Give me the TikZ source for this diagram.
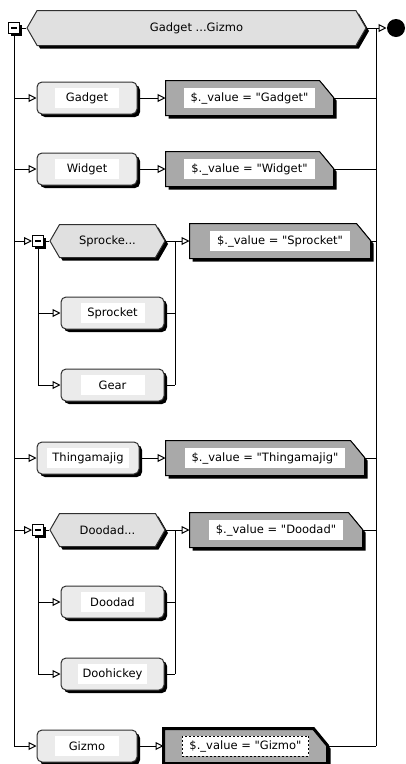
\documentclass[tikz,border=0pt]{standalone}
\usepackage{fontspec}
\setmainfont{DejaVu Sans}[Ligatures=TeXOff]
\usetikzlibrary{arrows.meta,shapes.symbols,shadows}
\definecolor{lightfill}{HTML}{EBEBEB}
\definecolor{hexfill}{HTML}{E0E0E0}
\definecolor{greyfill}{HTML}{A9A9A9}
\definecolor{linegrey}{HTML}{303030}
% grey "assignment" box with a cut top-right corner, drawn round a named node
\newcommand\greyshape[2][]{%
  \fill[black] ([xshift=3pt,yshift=-3pt]#2.south west) -- ([xshift=3pt,yshift=-3pt]#2.north west)
    -- ([xshift=-11pt,yshift=-3pt]#2.north east) -- ([xshift=3pt,yshift=-20pt]#2.north east)
    -- ([xshift=3pt,yshift=-3pt]#2.south east) -- cycle;
  \filldraw[fill=greyfill,draw=black,#1] (#2.south west) -- (#2.north west)
    -- ([xshift=-14pt]#2.north east) -- ([yshift=-17pt]#2.north east)
    -- (#2.south east) -- cycle;}
\begin{document}
\begin{tikzpicture}[x=1pt,y=-1pt,line width=1pt,
  font=\fontsize{11.5}{13}\selectfont,
  arr/.style={-{Triangle[length=8pt,width=8pt,fill=white]}},
  bshadow/.style={drop shadow={shadow xshift=3pt,shadow yshift=-3pt,fill=black,opacity=1}},
  sshadow/.style={drop shadow={shadow xshift=2pt,shadow yshift=-2pt,fill=black,opacity=1}},
  lbox/.style={draw=linegrey,fill=lightfill,rounded corners=5pt,minimum height=32pt,inner sep=0pt,bshadow},
  gbox/.style={rectangle,minimum height=34pt,inner sep=0pt},
  hexbox/.style={signal,signal to=west and east,signal pointer angle=120,
    draw=linegrey,fill=hexfill,inner sep=0pt,bshadow},
  minusbox/.style={draw=black,fill=white,minimum size=11pt,inner sep=0pt,sshadow},
  llab/.style={fill=white,minimum width=64pt,minimum height=20pt,inner xsep=5pt,inner ysep=0pt},
  glab/.style={fill=white,minimum height=20pt,inner xsep=7pt,inner ysep=0pt},
  endcirc/.style={circle,fill=black,minimum size=18pt,inner sep=0pt}
]
\useasboundingbox (0,0) rectangle (406,764);

% ---------- top ----------
\node[minusbox] (tm) at (14,28) {\rule{6pt}{1.2pt}};
\node[hexbox,minimum width=339pt,minimum height=35pt] (hx) at (196.5,28) {Gadget ...Gizmo};
\node[endcirc] (endc) at (396,28) {};
\coordinate (rt) at (376,28);
\coordinate (rb) at (376,746);
\coordinate (lb) at (14,746);

% ---------- Gadget ----------
\node[lbox,minimum width=100pt] (n1) at (87,98) {};
\node[llab] (n1t) at (n1) {Gadget};
\node[gbox,minimum width=167pt] (g1) at (249.5,98) {};
\greyshape{g1}
\node[glab] (g1t) at (g1) {\$.\_value = "Gadget"};

% ---------- Widget ----------
\node[lbox,minimum width=100pt] (n2) at (87,169) {};
\node[llab] (n2t) at (n2) {Widget};
\node[gbox,minimum width=167pt] (g2) at (249.5,169) {};
\greyshape{g2}
\node[glab] (g2t) at (g2) {\$.\_value = "Widget"};

% ---------- Sprocket group ----------
\node[minusbox] (sm) at (38,241) {\rule{6pt}{1.2pt}};
\node[hexbox,minimum width=115pt,minimum height=33pt] (shx) at (107.5,241) {Sprocke...};
\node[lbox,minimum width=103pt] (s1) at (112.5,313) {};
\node[llab] (s1t) at (s1) {Sprocket};
\node[lbox,minimum width=103pt] (s2) at (112.5,385) {};
\node[llab] (s2t) at (s2) {Gear};
\coordinate (scol) at (175,241);
\node[gbox,minimum width=180pt] (g3) at (280,241) {};
\greyshape{g3}
\node[glab] (g3t) at (g3) {\$.\_value = "Sprocket"};

% ---------- Thingamajig ----------
\node[lbox,minimum width=102pt] (n4) at (88,458) {};
\node[llab] (n4t) at (n4) {Thingamajig};
\node[gbox,minimum width=198pt] (g4) at (265,458) {};
\greyshape{g4}
\node[glab] (g4t) at (g4) {\$.\_value = "Thingamajig"};

% ---------- Doodad group ----------
\node[minusbox] (dm) at (38,530) {\rule{6pt}{1.2pt}};
\node[hexbox,minimum width=115pt,minimum height=33pt] (dhx) at (107.5,530) {Doodad...};
\node[lbox,minimum width=103pt] (d1) at (112.5,602) {};
\node[llab] (d1t) at (d1) {Doodad};
\node[lbox,minimum width=103pt] (d2) at (112.5,674) {};
\node[llab] (d2t) at (d2) {Doohickey};
\coordinate (dcol) at (175,530);
\node[gbox,minimum width=172pt] (g5) at (276,530) {};
\greyshape{g5}
\node[glab] (g5t) at (g5) {\$.\_value = "Doodad"};

% ---------- Gizmo ----------
\node[lbox,minimum width=100pt] (n6) at (87,746) {};
\node[llab] (n6t) at (n6) {Gizmo};
\node[gbox,minimum width=163pt] (g6) at (245.5,746) {};
\greyshape[line width=3pt]{g6}
\node[glab,draw=black,line width=0.8pt,dash pattern=on 2pt off 2pt] (g6t) at (g6) {\$.\_value = "Gizmo"};

% ---------- connectors ----------
\draw (tm.east) -- (hx.west);
\draw (hx.east) -- (rt);
\draw[arr] (rt) -- (endc.west);
\draw (rt) -- (rb);
\draw[arr] (tm.south) -- (lb) -- (n6.west);

\draw[arr] (tm |- n1) -- (n1.west);
\draw[arr] (n1.east) -- (g1.west);
\draw (g1.east) -- (rt |- g1.east);

\draw[arr] (tm |- n2) -- (n2.west);
\draw[arr] (n2.east) -- (g2.west);
\draw (g2.east) -- (rt |- g2.east);

\draw[arr] (tm |- sm) -- (sm.west);
\draw (sm.east) -- (shx.west);
\draw (shx.east) -- (scol);
\draw (scol) -- (scol |- s2);
\draw[arr] (scol) -- (g3.west);
\draw (g3.east) -- (rt |- g3.east);
\draw[arr] (sm.south) -- (sm.south |- s2) -- (s2.west);
\draw[arr] (sm.south |- s1) -- (s1.west);
\draw (s1.east) -- (scol |- s1);
\draw (s2.east) -- (scol |- s2);

\draw[arr] (tm |- n4) -- (n4.west);
\draw[arr] (n4.east) -- (g4.west);
\draw (g4.east) -- (rt |- g4.east);

\draw[arr] (tm |- dm) -- (dm.west);
\draw (dm.east) -- (dhx.west);
\draw (dhx.east) -- (dcol);
\draw (dcol) -- (dcol |- d2);
\draw[arr] (dcol) -- (g5.west);
\draw (g5.east) -- (rt |- g5.east);
\draw[arr] (dm.south) -- (dm.south |- d2) -- (d2.west);
\draw[arr] (dm.south |- d1) -- (d1.west);
\draw (d1.east) -- (dcol |- d1);
\draw (d2.east) -- (dcol |- d2);

\draw[arr] (n6.east) -- (g6.west);
\draw (g6.east) -- (rb);
\end{tikzpicture}
\end{document}
